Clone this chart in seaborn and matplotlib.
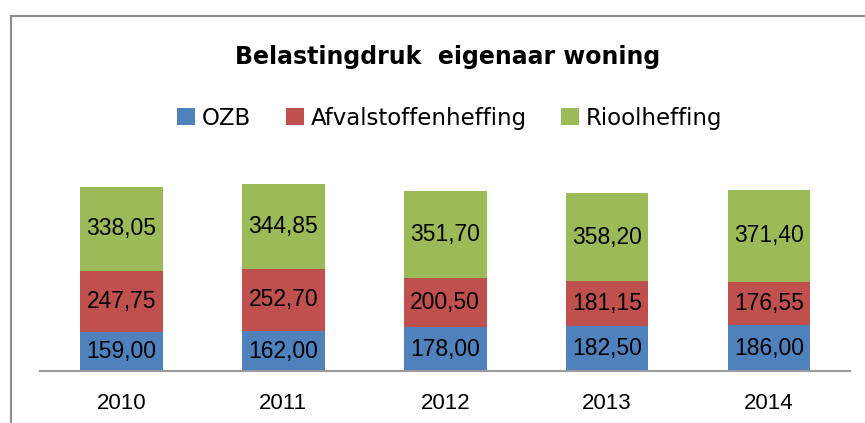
import numpy as np
import pandas as pd
import seaborn as sns
import matplotlib.pyplot as plt
from matplotlib.patches import Rectangle

# Data
years = ['2010', '2011', '2012', '2013', '2014']
ozb = [159.00, 162.00, 178.00, 182.50, 186.00]
afval = [247.75, 252.70, 200.50, 181.15, 176.55]
riool = [338.05, 344.85, 351.70, 358.20, 371.40]

series = ['OZB', 'Afvalstoffenheffing', 'Rioolheffing']
colors = ['#4f81bd', '#c0504d', '#9bbb59']

df = pd.DataFrame({'Jaar': years, 'OZB': ozb,
                   'Afvalstoffenheffing': afval, 'Rioolheffing': riool})

sns.set_theme(style='white')
plt.rcParams['font.family'] = ['Liberation Sans', 'DejaVu Sans']
plt.rcParams['text.color'] = 'black'

fig = plt.figure(figsize=(8.65, 4.23), dpi=100)
ax = fig.add_axes([0.0468, 0.1229, 0.9359, 0.5248])

# Stacked bars, each series on top of the previous ones
bottom = np.zeros(len(years))
for name, color in zip(series, colors):
    vals = df[name].to_numpy()
    ax.bar(df['Jaar'], vals, bottom=bottom, width=0.51, color=color,
           label=name, edgecolor='none')
    for i, v in enumerate(vals):
        ax.text(i, bottom[i] + v / 2, f'{v:.2f}'.replace('.', ','),
                ha='center', va='center', fontsize=16.5, color='black')
    bottom += vals

ax.set_xlim(-0.5, 4.5)
ax.set_ylim(0, 900)
ax.set_yticks([])
sns.despine(ax=ax, left=True, top=True, right=True)
ax.spines['bottom'].set_color('#999999')
ax.spines['bottom'].set_linewidth(1.5)
ax.tick_params(axis='x', labelsize=16, length=0, pad=16, colors='black')
ax.set_xlabel('')

fig.text(0.518, 0.866, 'Belastingdruk  eigenaar woning', ha='center',
         va='center', fontsize=17, fontweight='bold', family='DejaVu Sans',
         color='black')

handles, labels = ax.get_legend_handles_labels()
fig.legend(handles, labels, loc='center', bbox_to_anchor=(0.520, 0.721),
           ncol=3, frameon=False, handlelength=0.78, handleheight=0.78,
           handletextpad=0.3, columnspacing=1.5, labelcolor='black',
           prop={'family': 'DejaVu Sans', 'size': 16.5})

# Outer frame (cropped at right and bottom)
fig.patches.append(Rectangle((11 / 865, -0.1), 1.2, (423 - 16) / 423 + 0.1,
                             transform=fig.transFigure, fill=False,
                             edgecolor='#8c8c8c', linewidth=1.5))

fig.savefig('out.png', dpi=100)
